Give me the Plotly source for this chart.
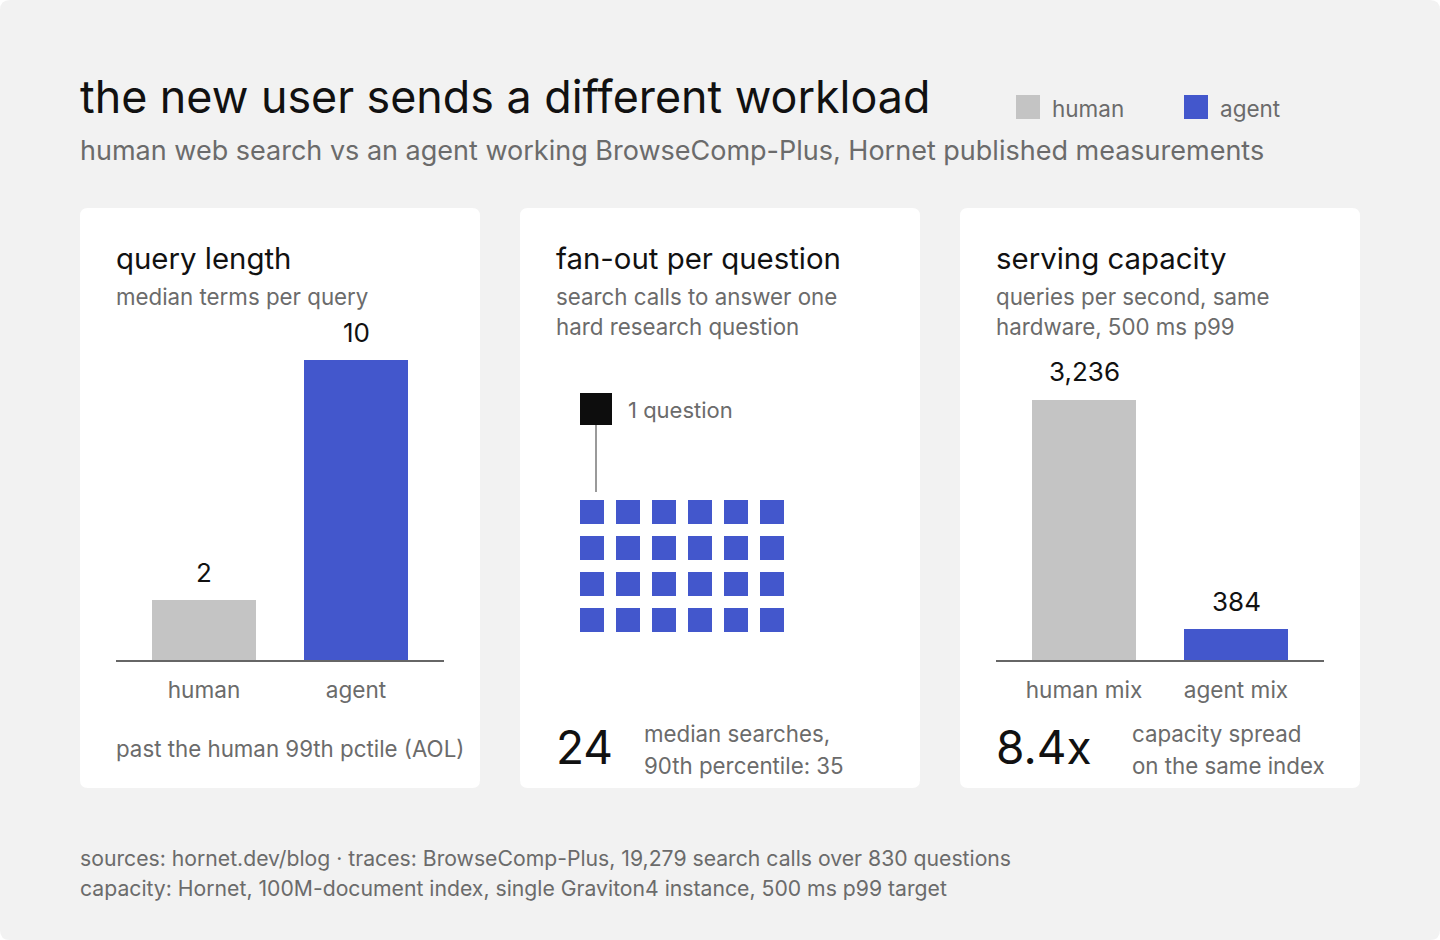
import plotly.graph_objects as go

W, H = 1440, 940

# ---- data ----
query_cats = ["human", "agent"]
query_terms = [2, 10]

fanout_median = 24          # median search calls per question
fanout_p90 = 35
fanout_cols = 6

capacity_cats = ["human mix", "agent mix"]
capacity_qps = [3236, 384]

series_names = ["human", "agent"]

# ---- style ----
HUMAN = "#c4c4c4"
AGENT = "#4357cc"
INK = "#111111"
MUTED = "#6b6b6b"
BG = "#f2f2f2"
FONT = "Inter"
BODY = 22.3


def px(x):
    return x / W


def py(y):
    return 1 - y / H


def rounded_path(x0, y0, x1, y1, r):
    # rounded rect in pixel coords (y down) -> paper coords path
    pts = [
        ("M", [(x0 + r, y0)]), ("L", [(x1 - r, y0)]), ("Q", [(x1, y0), (x1, y0 + r)]),
        ("L", [(x1, y1 - r)]), ("Q", [(x1, y1), (x1 - r, y1)]),
        ("L", [(x0 + r, y1)]), ("Q", [(x0, y1), (x0, y1 - r)]),
        ("L", [(x0, y0 + r)]), ("Q", [(x0, y0), (x0 + r, y0)]),
    ]
    s = ""
    for cmd, coords in pts:
        s += cmd + " ".join(f"{px(a):.5f},{py(b):.5f}" for a, b in coords) + " "
    return s + "Z"


def text(x, y, t, size, color=MUTED, anchor="left"):
    return dict(x=px(x), y=py(y), xref="paper", yref="paper", text=t, showarrow=False,
                xanchor=anchor, yanchor="middle", xshift=-2,
                font=dict(family=FONT, size=size, color=color))


fig = go.Figure()

# card 1: query length
fig.add_trace(go.Bar(x=query_cats, y=query_terms, marker=dict(color=[HUMAN, AGENT], line_width=0),
                     width=0.684, xaxis="x", yaxis="y", hoverinfo="x+y"))

# card 2: fan-out grid, one square per search call
cols = [i % fanout_cols for i in range(fanout_median)]
rows = [-(i // fanout_cols) for i in range(fanout_median)]
fig.add_trace(go.Scatter(x=[0.111, 0.111], y=[2.417, 0.556], mode="lines",
                         line=dict(color="#9a9a9a", width=2), xaxis="x2", yaxis="y2", hoverinfo="skip"))
fig.add_trace(go.Scatter(x=[0.111], y=[2.861], mode="markers",
                         marker=dict(symbol="square", size=32, color="#0d0d0d", line_width=0),
                         xaxis="x2", yaxis="y2", hoverinfo="skip"))
fig.add_trace(go.Scatter(x=cols, y=rows, mode="markers",
                         marker=dict(symbol="square", size=24, color=AGENT, line_width=0),
                         xaxis="x2", yaxis="y2", hoverinfo="skip"))

# card 3: serving capacity
fig.add_trace(go.Bar(x=capacity_cats, y=capacity_qps, marker=dict(color=[HUMAN, AGENT], line_width=0),
                     width=0.684, xaxis="x3", yaxis="y3", hoverinfo="x+y"))

bar_x = dict(type="category", range=[-0.579, 1.579], showline=True, linecolor="#666666", linewidth=2,
             ticks="outside", ticklen=9, tickcolor="rgba(0,0,0,0)", showgrid=False, zeroline=False,
             tickfont=dict(family=FONT, size=22.6, color=MUTED), fixedrange=True)
hidden = dict(visible=False, showgrid=False, zeroline=False, fixedrange=True)

shapes = [dict(type="path", path=rounded_path(0, 0, W, H, 10), xref="paper", yref="paper",
               fillcolor=BG, line_width=0, layer="below")]
for cx in (80, 520, 960):
    shapes.append(dict(type="path", path=rounded_path(cx, 208, cx + 400, 788, 8), xref="paper",
                       yref="paper", fillcolor="white", line_width=0, layer="below"))
# legend swatches
for lx, col in ((1016, HUMAN), (1184, AGENT)):
    shapes.append(dict(type="rect", xref="paper", yref="paper", x0=px(lx), x1=px(lx + 24),
                       y0=py(119), y1=py(95), fillcolor=col, line_width=0))

annotations = [
    text(80, 97, "the new user sends a different workload", 44.8, INK),
    text(80, 151, "human web search vs an agent working BrowseComp-Plus, Hornet published measurements", 27),
    text(1052, 108, series_names[0], 22.5),
    text(1220, 108, series_names[1], 22.5),
    # card 1
    text(116, 258, "query length", 29.4, INK),
    text(116, 296, "median terms per query", BODY),
    text(116, 748, "past the human 99th pctile (AOL)", BODY),
    # card 2
    text(556, 258, "fan-out per question", 29.4, INK),
    text(556, 296, "search calls to answer one", BODY),
    text(556, 326, "hard research question", BODY),
    text(628, 410, "1 question", 22),
    text(556, 747, str(fanout_median), 46, INK),
    text(644, 733, "median searches,", BODY),
    text(644, 765, f"90th percentile: {fanout_p90}", BODY),
    # card 3
    text(996, 258, "serving capacity", 29.4, INK),
    text(996, 296, "queries per second, same", BODY),
    text(996, 326, "hardware, 500 ms p99", BODY),
    text(996, 747, f"{capacity_qps[0] / capacity_qps[1]:.1f}x", 46, INK),
    text(1132, 733, "capacity spread", BODY),
    text(1132, 765, "on the same index", BODY),
    # footer
    text(80, 858, "sources: hornet.dev/blog · traces: BrowseComp-Plus, 19,279 search calls over 830 questions", 21.2),
    text(80, 888, "capacity: Hornet, 100M-document index, single Graviton4 instance, 500 ms p99 target", 21.2),
]

# value labels above bars
for cat, val in zip(query_cats, query_terms):
    annotations.append(dict(x=cat, y=val, xref="x", yref="y", text=f"{val:,}", showarrow=False,
                            yanchor="middle", yshift=28, font=dict(family=FONT, size=26, color=INK)))
for cat, val in zip(capacity_cats, capacity_qps):
    annotations.append(dict(x=cat, y=val, xref="x3", yref="y3", text=f"{val:,}", showarrow=False,
                            yanchor="middle", yshift=28, font=dict(family=FONT, size=26, color=INK)))

fig.update_layout(
    width=W, height=H, margin=dict(l=0, r=0, t=0, b=0),
    paper_bgcolor="white", plot_bgcolor="rgba(0,0,0,0)",
    showlegend=False, bargap=0,
    font=dict(family=FONT, color=MUTED),
    xaxis=dict(domain=[px(116), px(444)], anchor="y", **bar_x),
    yaxis=dict(domain=[py(660), py(360)], range=[0, max(query_terms)], anchor="x", **hidden),
    xaxis2=dict(domain=[px(556), px(884)], range=[-1, 8.111], anchor="y2", **hidden),
    yaxis2=dict(domain=[py(640), py(380)], range=[-3.556, 3.667], anchor="x2", **hidden),
    xaxis3=dict(domain=[px(996), px(1324)], anchor="y3", **bar_x),
    yaxis3=dict(domain=[py(660), py(400)], range=[0, max(capacity_qps)], anchor="x3", **hidden),
    shapes=shapes,
    annotations=annotations,
)

# page body has a default margin; drop it so the figure sits flush in the window
fig.write_html("out.html", config={"displayModeBar": False},
               post_script="document.body.style.margin='0';")
